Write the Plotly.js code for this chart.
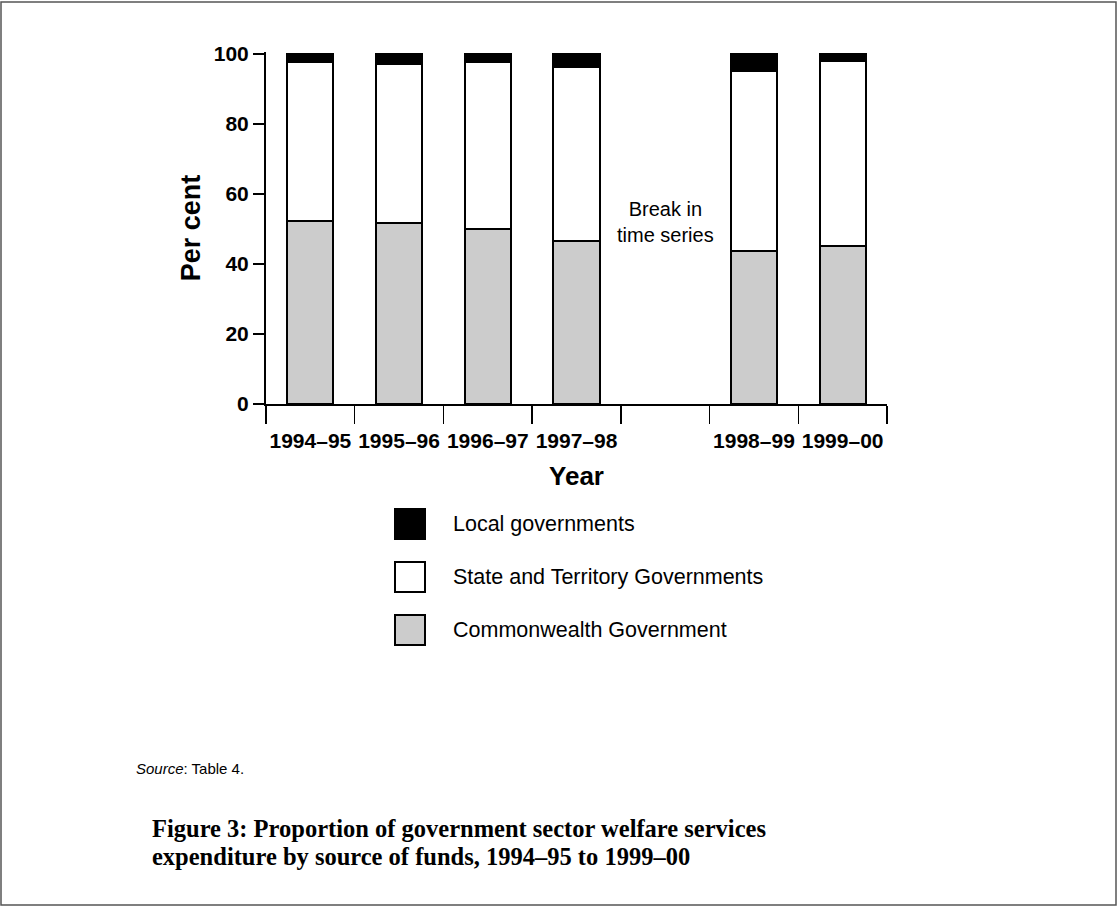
<!DOCTYPE html>
<html>
<head>
<meta charset="utf-8">
<script src="https://cdn.plot.ly/plotly-3.0.1.min.js"></script>
<style>
  html, body { margin: 0; padding: 0; background: #ffffff; }
  #chart { width: 1117px; height: 907px; }
</style>
</head>
<body>
<div id="chart"></div>
<script>
// ---- Data ----
const years = ['1994–95', '1995–96', '1996–97', '1997–98', ' ', '1998–99', '1999–00'];
const commonwealth = [52.3, 51.6, 50.1, 46.5, null, 43.6, 45.1];
const stateTerritory = [45.5, 45.6, 47.6, 49.9, null, 51.5, 52.8];
const localGov = [2.2, 2.8, 2.3, 3.6, null, 4.9, 2.1];
const yTicks = [0, 20, 40, 60, 80, 100];
const seriesNames = ['Commonwealth Government', 'State and Territory Governments', 'Local governments'];
const seriesColors = ['#cccccc', '#ffffff', '#000000'];
const breakLabel = 'Break in<br>time series';
const breakCategory = ' ';
const breakY = 52;

// ---- Geometry helpers (pixel -> paper) ----
const W = 1117, H = 907;
const L = 266, R = 887, T = 52, B = 404;
const px = x => (x - L) / (R - L);
const py = y => (B - y) / (B - T);

const sans = 'Arial, "Liberation Sans", Helvetica, sans-serif';
const serif = '"Book Antiqua", Palatino, "Liberation Serif", "DejaVu Serif", serif';

const seriesValues = [commonwealth, stateTerritory, localGov];
const traces = seriesValues.map((vals, i) => ({
  type: 'bar',
  x: years,
  y: vals,
  name: seriesNames[i],
  marker: { color: seriesColors[i], line: { color: '#000000', width: 2 } },
  hoverinfo: 'skip',
  showlegend: false
}));

// Custom legend (large boxes), listed top to bottom: Local, State, Commonwealth
const legendOrder = [2, 1, 0];
const legendCentersY = [524, 577, 630];
const shapes = [];
const annotations = [];
legendOrder.forEach((si, k) => {
  const cy = legendCentersY[k];
  shapes.push({
    type: 'rect', xref: 'paper', yref: 'paper',
    x0: px(395), x1: px(425), y0: py(cy - 15), y1: py(cy + 15),
    fillcolor: seriesColors[si], line: { color: '#000000', width: 2 }
  });
  annotations.push({
    xref: 'paper', yref: 'paper', x: px(451), y: py(cy),
    xanchor: 'left', yanchor: 'middle', showarrow: false,
    text: seriesNames[si], font: { family: sans, size: 21.5, color: '#000000' }
  });
});

// Outer frame
shapes.push({
  type: 'rect', xref: 'paper', yref: 'paper',
  x0: px(1), x1: px(1116), y0: py(905), y1: py(2),
  line: { color: '#555555', width: 1.5 }, fillcolor: 'rgba(0,0,0,0)', layer: 'below'
});

// Break in time series label
annotations.push({
  xref: 'x', yref: 'y', x: breakCategory, y: breakY,
  xanchor: 'center', yanchor: 'middle', showarrow: false,
  text: breakLabel, font: { family: sans, size: 20, color: '#000000' }
});

// Source note
annotations.push({
  xref: 'paper', yref: 'paper', x: px(134), y: py(768),
  xanchor: 'left', yanchor: 'middle', showarrow: false,
  text: '<i>Source</i>: Table 4.', font: { family: sans, size: 15, color: '#000000' }
});

// Figure caption (two lines)
const captionLines = ['Figure 3: Proportion of government sector welfare services',
                      'expenditure by source of funds, 1994–95 to 1999–00'];
const captionY = [828, 856];
captionLines.forEach((t, i) => {
  annotations.push({
    xref: 'paper', yref: 'paper', x: px(150), y: py(captionY[i]),
    xanchor: 'left', yanchor: 'middle', align: 'left', showarrow: false,
    text: '<b>' + t + '</b>',
    font: { family: serif, size: 24.5, color: '#000000' }
  });
});

const layout = {
  width: W, height: H,
  margin: { l: L, r: W - R, t: T, b: H - B, pad: 0 },
  paper_bgcolor: '#ffffff', plot_bgcolor: '#ffffff',
  barmode: 'stack', bargap: 0.48,
  showlegend: false,
  font: { family: sans, color: '#000000' },
  xaxis: {
    type: 'category',
    categoryorder: 'array', categoryarray: years,
    range: [-0.5, years.length - 0.5],
    showline: true, linecolor: '#000000', linewidth: 2,
    showgrid: false, zeroline: false,
    ticks: 'outside', tickson: 'boundaries', ticklen: 18, tickwidth: 1.5, tickcolor: '#000000',
    tickangle: 0, ticklabelstandoff: 17,
    tickfont: { family: sans, size: 21, weight: 'bold', color: '#000000' },
    title: { text: 'Year', font: { family: sans, size: 26, weight: 'bold', color: '#000000' }, standoff: 16 },
    fixedrange: true
  },
  yaxis: {
    range: [0, 100.6],
    tickvals: yTicks, ticktext: yTicks.map(String),
    showline: true, linecolor: '#000000', linewidth: 2,
    showgrid: false, zeroline: false,
    ticks: 'outside', ticklen: 11, tickwidth: 2, tickcolor: '#000000',
    tickfont: { family: sans, size: 21, weight: 'bold', color: '#000000' },
    title: { text: 'Per cent', font: { family: sans, size: 27, weight: 'bold', color: '#000000' }, standoff: 5 },
    fixedrange: true
  },
  shapes: shapes,
  annotations: annotations
};

Plotly.newPlot('chart', traces, layout, { displayModeBar: false, staticPlot: true });
</script>
</body>
</html>
